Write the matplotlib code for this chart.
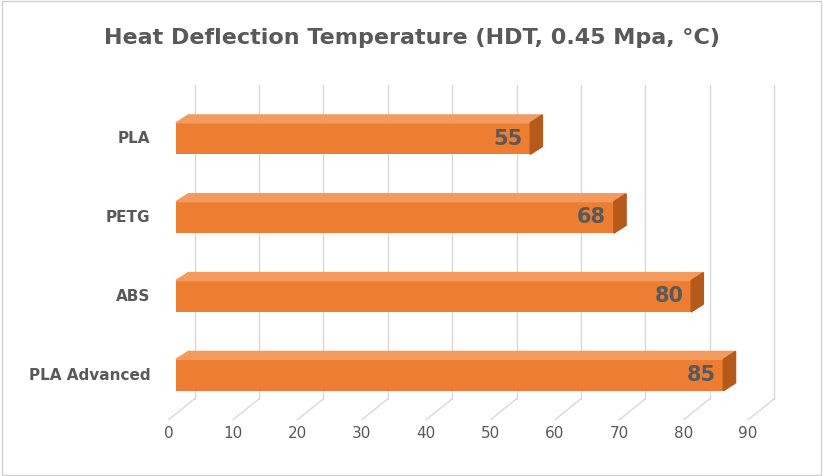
import matplotlib.pyplot as plt
from matplotlib.patches import Polygon

materials = ["PLA Advanced", "ABS", "PETG", "PLA"]
hdt = [85, 80, 68, 55]

BAR_H = 0.4
DX, DY = 1.9, 0.1  # fake 3D depth in data units
FRONT, TOP, SIDE = "#ED7D31", "#F39A5E", "#B65A1C"
GRID = "#D9D9D9"
TEXT = "#595959"

fig = plt.figure(figsize=(8.23, 4.76), dpi=100)
ax = fig.add_axes([168 / 823, 1 - 420 / 476, 612 / 823, 335 / 476])
ax.set_xlim(-1.25, 93.8)
ax.set_ylim(-0.57, 3.68)
ax.axis("off")

floor_back = -0.57 + 0.27
for v in range(0, 100, 10):
    ax.plot([v - 1.2, v + 2.9], [-0.57, floor_back], color=GRID, lw=1, zorder=0)
    ax.plot([v + 2.9, v + 2.9], [floor_back, 3.68], color=GRID, lw=1, zorder=0)
    ax.text(v - 1.2, -0.65, str(v), ha="center", va="top", fontsize=11,
            color=TEXT, clip_on=False)

for i, (name, val) in enumerate(zip(materials, hdt)):
    y0, y1 = i - BAR_H / 2, i + BAR_H / 2
    ax.barh(i, val, height=BAR_H, color=FRONT, zorder=3)
    ax.add_patch(Polygon([(0, y1), (val, y1), (val + DX, y1 + DY), (DX, y1 + DY)],
                         closed=True, color=TOP, zorder=3))
    ax.add_patch(Polygon([(val, y0), (val + DX, y0 + DY), (val + DX, y1 + DY), (val, y1)],
                         closed=True, color=SIDE, zorder=3))
    ax.text(val - 1.2, i, str(val), ha="right", va="center", fontsize=15,
            fontweight="bold", color=TEXT, zorder=4)
    ax.text(-4, i, name, ha="right", va="center", fontsize=11,
            fontweight="bold", color=TEXT, clip_on=False)

fig.text(0.5, 1 - 38 / 476, "Heat Deflection Temperature (HDT, 0.45 Mpa, °C)",
         ha="center", va="center", fontsize=16, fontweight="bold", color=TEXT)
fig.patches.append(plt.Rectangle((0.002, 0.003), 0.996, 0.994, transform=fig.transFigure,
                                 fill=False, edgecolor="#D0D0D0", lw=1))
fig.savefig("out.png", dpi=100)
